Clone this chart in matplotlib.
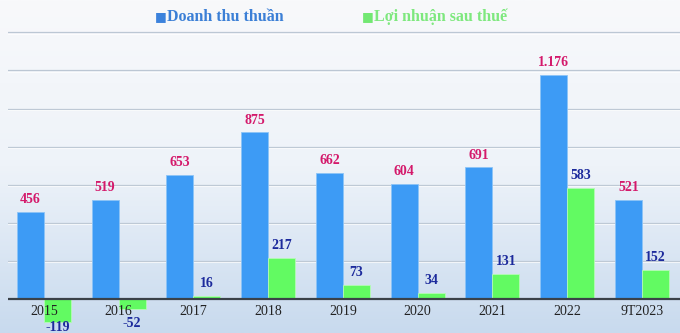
import matplotlib

matplotlib.use("Agg")
import matplotlib.pyplot as plt
import numpy as np
from matplotlib.colors import LinearSegmentedColormap

years = ["2015", "2016", "2017", "2018", "2019", "2020", "2021", "2022", "9T2023"]
revenue = [456, 519, 653, 875, 662, 604, 691, 1176, 521]
profit = [-119, -52, 16, 217, 73, 34, 131, 583, 152]
revenue_labels = ["456", "519", "653", "875", "662", "604", "691", "1.176", "521"]
grid_levels = [200, 400, 600, 800, 1000, 1200, 1400]

BLUE = "#3d9bf5"
GREEN = "#62fa62"
RED_TXT = "#d4196b"
NAVY_TXT = "#1c2a9c"
SERIF = "Liberation Serif"

fig = plt.figure(figsize=(6.8, 3.33), dpi=100)

# vertical background gradient
bg = fig.add_axes([0, 0, 1, 1], zorder=0)
cmap = LinearSegmentedColormap.from_list("bg", ["#f8f9fb", "#eef3f9", "#c8daee"])
bg.imshow(np.linspace(0, 1, 256).reshape(-1, 1), aspect="auto", cmap=cmap,
          extent=(0, 1, 0, 1))
bg.axis("off")

ax = fig.add_axes([8 / 680, 0, 672 / 680, 1], zorder=1)
ax.patch.set_alpha(0)
ax.set_xlim(-0.48, 8.51)
ax.set_ylim(-178.5, 1570)
ax.axis("off")

for g in grid_levels:
    ax.axhline(g, color="#bcc7d4", lw=0.9, zorder=1)
    ax.axhline(g - 6, color="#ffffff", lw=0.8, alpha=0.7, zorder=1)

x = np.arange(len(years))
w = 0.36
ax.bar(x - w / 2, revenue, w, color=BLUE, edgecolor="#8cc4f7", lw=0.6, zorder=2)
ax.bar(x + w / 2, profit, w, color=GREEN, edgecolor="#b5fbb5", lw=0.6, zorder=2)
ax.axhline(0, color="#3a4148", lw=1.6, zorder=3)

for xi, v, lab in zip(x, revenue, revenue_labels):
    ax.text(xi - w / 2, v + 30, lab, ha="center", va="bottom", color=RED_TXT,
            fontsize=10, fontweight="bold", family=SERIF, zorder=4)
for xi, v in zip(x, profit):
    if v >= 0:
        ax.text(xi + w / 2, v + 30, str(v), ha="center", va="bottom", color=NAVY_TXT,
                fontsize=10, fontweight="bold", family=SERIF, zorder=4)
    else:
        # negative values sit just under the baseline labels
        ax.text(xi + w / 2, min(v + 5, -95), str(v), ha="center", va="top",
                color=NAVY_TXT, fontsize=10, fontweight="bold", family=SERIF, zorder=4)
    ax.text(xi, -30, years[xi], ha="center", va="top", color="#222222",
            fontsize=10, family=SERIF, zorder=4)

# legend across the top
fig.text(155 / 680, 1 - 17 / 333, "\u25a0", color="#3b82dc", fontsize=9,
         ha="left", va="center", family="DejaVu Sans")
fig.text(167 / 680, 1 - 17 / 333, "Doanh thu thuần", color="#3b7fd6", fontsize=11.5,
         fontweight="bold", ha="left", va="center", family=SERIF)
fig.text(362 / 680, 1 - 17 / 333, "\u25a0", color="#72e872", fontsize=9,
         ha="left", va="center", family="DejaVu Sans")
fig.text(374 / 680, 1 - 17 / 333, "Lợi nhuận sau thuế", color="#7ee87e", fontsize=11.5,
         fontweight="bold", ha="left", va="center", family=SERIF)

fig.savefig("out.png", dpi=100)
